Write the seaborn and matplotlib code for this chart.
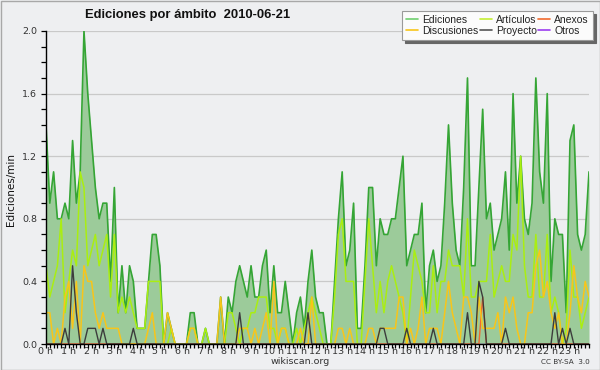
import matplotlib
matplotlib.use("Agg")
import matplotlib.pyplot as plt
from matplotlib.lines import Line2D
from matplotlib.patches import Rectangle
from matplotlib.ticker import MultipleLocator, FixedLocator
import numpy as np
import pandas as pd
import seaborn as sns

# ---- data: edits per minute, 10-minute slots over 2010-06-21 ----
hour_labels = [f"{h} h" for h in range(24)]

ediciones = [
    1.4, 0.9, 1.1, 0.8, 0.8, 0.9, 0.8, 1.3, 0.9, 1.1,
    2.0, 1.6, 1.3, 1.0, 0.8, 0.9, 0.9, 0.4, 1.0, 0.2,
    0.5, 0.2, 0.5, 0.4, 0.1, 0.1, 0.1, 0.4, 0.7, 0.7,
    0.5, 0.0, 0.2, 0.1, 0.0, 0.0, 0.0, 0.0, 0.2, 0.2,
    0.0, 0.0, 0.1, 0.0, 0.0, 0.0, 0.3, 0.0, 0.3, 0.2,
    0.4, 0.5, 0.4, 0.3, 0.5, 0.3, 0.3, 0.5, 0.6, 0.2,
    0.5, 0.2, 0.2, 0.4, 0.2, 0.0, 0.2, 0.3, 0.1, 0.4,
    0.6, 0.3, 0.2, 0.2, 0.0, 0.0, 0.4, 0.8, 1.1, 0.5,
    0.6, 0.9, 0.1, 0.1, 0.5, 1.0, 1.0, 0.5, 0.8, 0.7,
    0.7, 0.8, 0.8, 1.0, 1.2, 0.5, 0.6, 0.7, 0.7, 0.9,
    0.2, 0.5, 0.6, 0.4, 0.5, 0.9, 1.4, 0.9, 0.6, 0.5,
    1.0, 1.7, 0.5, 0.5, 1.0, 1.5, 0.8, 0.9, 0.6, 0.7,
    0.8, 1.1, 0.6, 1.6, 0.9, 1.2, 0.8, 0.7, 0.9, 1.7,
    1.1, 0.9, 1.6, 0.4, 0.8, 0.7, 0.7, 0.2, 1.3, 1.4,
    0.7, 0.6, 0.7, 1.1,
]

articulos = [
    0.5, 0.3, 0.4, 0.5, 0.8, 0.2, 0.4, 0.6, 0.5, 1.1,
    1.0, 0.5, 0.6, 0.7, 0.5, 0.6, 0.7, 0.3, 0.7, 0.2,
    0.3, 0.2, 0.3, 0.2, 0.1, 0.1, 0.1, 0.4, 0.4, 0.4,
    0.4, 0.0, 0.0, 0.1, 0.0, 0.0, 0.0, 0.0, 0.1, 0.1,
    0.0, 0.0, 0.1, 0.0, 0.0, 0.0, 0.0, 0.0, 0.2, 0.2,
    0.1, 0.0, 0.1, 0.1, 0.2, 0.2, 0.3, 0.3, 0.3, 0.1,
    0.1, 0.0, 0.1, 0.1, 0.0, 0.0, 0.1, 0.0, 0.1, 0.2,
    0.3, 0.2, 0.1, 0.0, 0.0, 0.0, 0.3, 0.7, 0.8, 0.4,
    0.4, 0.4, 0.0, 0.0, 0.4, 0.8, 0.5, 0.2, 0.4, 0.2,
    0.4, 0.5, 0.4, 0.3, 0.2, 0.0, 0.3, 0.6, 0.5, 0.4,
    0.2, 0.2, 0.5, 0.2, 0.4, 0.4, 0.6, 0.5, 0.5, 0.5,
    0.3, 0.8, 0.3, 0.3, 0.4, 0.4, 0.4, 0.7, 0.3, 0.4,
    0.5, 0.4, 0.4, 0.7, 0.6, 1.2, 0.5, 0.3, 0.3, 0.7,
    0.3, 0.3, 0.7, 0.2, 0.3, 0.2, 0.0, 0.1, 0.6, 0.3,
    0.3, 0.1, 0.2, 0.3,
]

discusiones = [
    0.2, 0.2, 0.0, 0.1, 0.0, 0.3, 0.4, 0.1, 0.4, 0.0,
    0.5, 0.4, 0.4, 0.2, 0.1, 0.2, 0.1, 0.1, 0.1, 0.1,
    0.0, 0.0, 0.0, 0.0, 0.0, 0.0, 0.0, 0.1, 0.2, 0.0,
    0.0, 0.0, 0.2, 0.1, 0.0, 0.0, 0.0, 0.0, 0.1, 0.1,
    0.0, 0.0, 0.0, 0.0, 0.0, 0.0, 0.3, 0.0, 0.0, 0.0,
    0.0, 0.1, 0.1, 0.1, 0.0, 0.1, 0.0, 0.1, 0.2, 0.0,
    0.4, 0.0, 0.1, 0.1, 0.0, 0.0, 0.0, 0.1, 0.0, 0.0,
    0.3, 0.0, 0.0, 0.0, 0.0, 0.0, 0.0, 0.1, 0.1, 0.0,
    0.1, 0.0, 0.0, 0.0, 0.0, 0.1, 0.1, 0.0, 0.1, 0.1,
    0.1, 0.1, 0.1, 0.3, 0.3, 0.0, 0.1, 0.0, 0.1, 0.3,
    0.0, 0.1, 0.1, 0.1, 0.0, 0.2, 0.4, 0.2, 0.1, 0.0,
    0.3, 0.3, 0.2, 0.0, 0.3, 0.1, 0.1, 0.1, 0.1, 0.2,
    0.0, 0.3, 0.2, 0.3, 0.1, 0.0, 0.0, 0.2, 0.2, 0.5,
    0.6, 0.3, 0.4, 0.2, 0.1, 0.2, 0.0, 0.0, 0.2, 0.5,
    0.3, 0.2, 0.4, 0.3,
]

proyecto = [
    0.0, 0.0, 0.0, 0.0, 0.0, 0.1, 0.0, 0.5, 0.2, 0.0,
    0.0, 0.1, 0.1, 0.1, 0.0, 0.1, 0.0, 0.0, 0.0, 0.0,
    0.0, 0.0, 0.0, 0.1, 0.0, 0.0, 0.0, 0.0, 0.0, 0.0,
    0.0, 0.0, 0.0, 0.0, 0.0, 0.0, 0.0, 0.0, 0.0, 0.0,
    0.0, 0.0, 0.0, 0.0, 0.0, 0.0, 0.0, 0.0, 0.0, 0.0,
    0.0, 0.2, 0.0, 0.0, 0.0, 0.0, 0.0, 0.0, 0.0, 0.0,
    0.0, 0.0, 0.0, 0.0, 0.0, 0.0, 0.0, 0.0, 0.0, 0.2,
    0.0, 0.0, 0.0, 0.0, 0.0, 0.0, 0.0, 0.0, 0.0, 0.0,
    0.0, 0.0, 0.0, 0.0, 0.0, 0.0, 0.0, 0.0, 0.1, 0.1,
    0.0, 0.0, 0.0, 0.0, 0.0, 0.1, 0.0, 0.0, 0.0, 0.0,
    0.0, 0.0, 0.1, 0.0, 0.0, 0.0, 0.0, 0.0, 0.0, 0.0,
    0.0, 0.2, 0.0, 0.0, 0.4, 0.3, 0.0, 0.0, 0.0, 0.0,
    0.0, 0.1, 0.0, 0.0, 0.0, 0.0, 0.0, 0.0, 0.0, 0.0,
    0.0, 0.0, 0.0, 0.0, 0.2, 0.0, 0.1, 0.0, 0.1, 0.0,
    0.0, 0.0, 0.0, 0.0,
]

anexos = [0.0] * 115 + [0.3] + [0.0] * 28
otros = [0.0] * 144

slot = np.arange(len(ediciones))

# ---- styling ----
sns.set_theme(style="ticks")
plt.rcParams['font.family'] = ['DejaVu Sans']
BG = '#eeeff1'

fig = plt.figure(figsize=(6, 3.7), dpi=100, facecolor=BG)
fig.patches.append(Rectangle((0.5 / 600, 0.5 / 370), 599 / 600, 369 / 370,
                             transform=fig.transFigure, fill=False,
                             edgecolor='#a8a8a8', linewidth=1.0))
ax = fig.add_axes([46 / 600, 1 - 344 / 370, 543 / 600, 313 / 370])
ax.set_facecolor(BG)

ax.yaxis.grid(True, color='#c9c9c9', linewidth=0.9)
ax.set_axisbelow(True)

df = pd.DataFrame({
    'slot': slot, 'Ediciones': ediciones, 'Artículos': articulos,
    'Anexos': anexos, 'Discusiones': discusiones, 'Proyecto': proyecto,
    'Otros': otros,
})

ax.fill_between(df['slot'], df['Ediciones'], color='#9ccb9a', linewidth=0, zorder=1.5)

styles = [
    ('Otros', '#9b3df0', 1.0),
    ('Anexos', '#f26a2e', 1.0),
    ('Ediciones', '#35a535', 1.2),
    ('Artículos', '#aaee11', 1.1),
    ('Discusiones', '#f8c51a', 1.1),
    ('Proyecto', '#3c3c3c', 1.0),
]
for name, col, lw in styles:
    sns.lineplot(data=df, x='slot', y=name, ax=ax, color=col, linewidth=lw,
                 legend=False, zorder=2)

ax.set_xlim(0, 143)
ax.set_ylim(0, 2.0)
ax.xaxis.set_major_locator(FixedLocator(list(range(0, 144, 6))))
ax.set_xticklabels(hour_labels)
ax.xaxis.set_minor_locator(MultipleLocator(1))
ax.yaxis.set_major_locator(MultipleLocator(0.4))
ax.yaxis.set_minor_locator(MultipleLocator(0.1))
ax.set_yticklabels([f"{v:.1f}" for v in ax.get_yticks()])
ax.tick_params(axis='both', which='both', direction='out', color='black',
               width=0.9, labelsize=6.8, labelcolor='#333333')
ax.tick_params(axis='x', which='both', length=3, pad=-1)
ax.tick_params(axis='y', which='both', length=3.5, pad=3)
ax.set_xlabel('')
ax.set_ylabel('')
for s in ['top', 'right']:
    ax.spines[s].set_visible(False)
for s in ['left', 'bottom']:
    ax.spines[s].set_color('black')
    ax.spines[s].set_linewidth(1.0)
    ax.spines[s].set_zorder(5)

fig.text(85 / 600, 1 - 15 / 370, 'Ediciones por ámbito  2010-06-21',
         fontsize=9.4, fontweight='bold', color='#111111', va='center', ha='left',
         family=['Liberation Sans', 'DejaVu Sans'])
fig.text(11 / 600, 1 - 190 / 370, 'Ediciones/min', rotation=90, fontsize=7.5,
         color='#111111', ha='center', va='center')
fig.text(300 / 600, 1 - 361 / 370, 'wikiscan.org', fontsize=6.8,
         color='#333333', ha='center', va='center')
fig.text(590 / 600, 1 - 362 / 370, 'CC BY-SA  3.0', fontsize=5.2,
         color='#333333', ha='right', va='center')

legend_order = [
    ('Ediciones', '#6fcf6f'), ('Discusiones', '#f8c51a'),
    ('Artículos', '#c4ee33'), ('Proyecto', '#555555'),
    ('Anexos', '#f26a2e'), ('Otros', '#9b3df0'),
]
handles = [Line2D([0], [0], color=c, lw=1.2) for _, c in legend_order]
labels = [n for n, _ in legend_order]
leg = fig.legend(handles, labels, ncol=3, loc='upper right',
                 bbox_to_anchor=(593 / 600, 1 - 11 / 370),
                 prop={'family': ['Liberation Sans', 'DejaVu Sans'], 'size': 7.5},
                 frameon=True, fancybox=False, shadow={'color': '#666666', 'alpha': 1},
                 handlelength=1.15, handletextpad=0.4, columnspacing=0.15,
                 labelspacing=0.1, borderpad=0.38, borderaxespad=0)
leg.get_frame().set_facecolor('#fbfbfb')
leg.get_frame().set_edgecolor('#9a9a9a')
leg.get_frame().set_linewidth(0.8)
for t in leg.get_texts():
    t.set_color('#222222')

fig.savefig('out.png', dpi=100, facecolor=BG)
